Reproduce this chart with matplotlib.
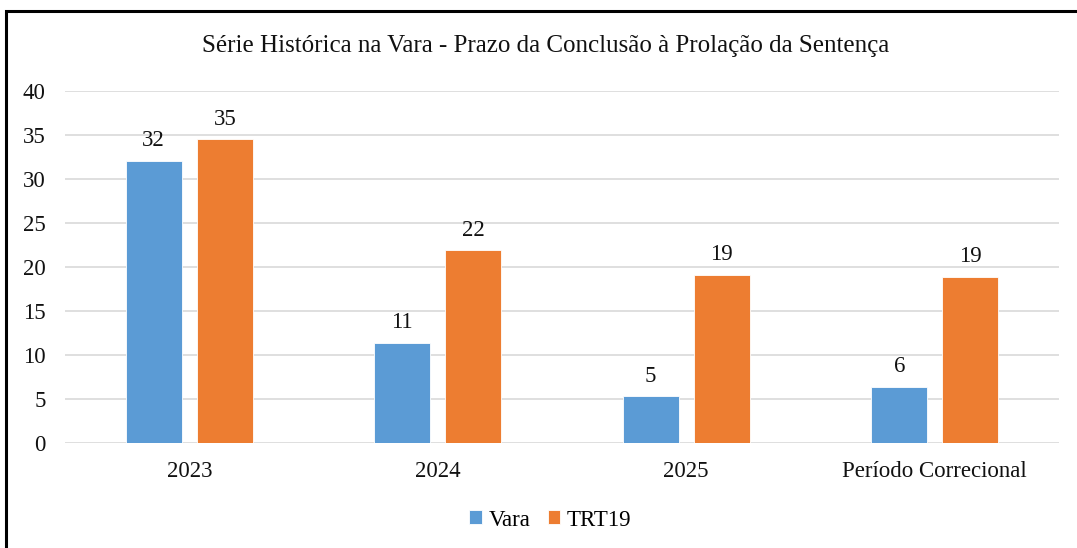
import matplotlib
matplotlib.use('Agg')
import matplotlib.pyplot as plt
import matplotlib.patches as mpatches
import numpy as np

categories = ['2023', '2024', '2025', 'Período Correcional']
vara = [32.1, 11.4, 5.3, 6.4]
trt19 = [34.5, 21.9, 19.1, 18.9]
vara_labels = ['32', '11', '5', '6']
trt19_labels = ['35', '22', '19', '19']

plt.rcParams['font.family'] = ['Liberation Serif', 'DejaVu Serif']

W, H = 1077, 548
fig = plt.figure(figsize=(W / 100, H / 100), dpi=100)
ax = fig.add_axes([65 / W, 1 - 443 / H, (1059 - 65) / W, (443 - 91) / H])

x = np.arange(len(categories))
bw = 0.225
off = 0.143
c_vara = '#5B9BD5'
c_trt = '#ED7D31'
b1 = ax.bar(x - off, vara, bw, color=c_vara, edgecolor='white', linewidth=0.6, label='Vara', zorder=3)
b2 = ax.bar(x + off, trt19, bw, color=c_trt, edgecolor='white', linewidth=0.6, label='TRT19', zorder=3)

for rects, labs in ((b1, vara_labels), (b2, trt19_labels)):
    for r, lab in zip(rects, labs):
        ax.annotate(lab, (r.get_x() + r.get_width() / 2, r.get_height()),
                    xytext=(0, 7), textcoords='offset points',
                    ha='center', va='bottom', fontsize=16.5, color='#111111')

ax.set_xlim(-0.5, len(categories) - 0.5)
ax.set_ylim(0, 40)
ax.set_yticks(range(0, 41, 5))
ax.set_xticks(x)
ax.set_xticklabels(categories)
ax.tick_params(axis='both', length=0, labelsize=16.5, colors='#111111')
ax.tick_params(axis='x', pad=13)
ax.tick_params(axis='y', pad=14)
ax.grid(axis='y', color='#D9D9D9', linewidth=1.2, zorder=0)
for s in ax.spines.values():
    s.set_visible(False)

fig.text(0.507, 1 - 46 / H, 'Série Histórica na Vara - Prazo da Conclusão à Prolação da Sentença',
         ha='center', va='center', fontsize=18, color='#111111')

leg = fig.legend(handles=[b1, b2], loc='center', bbox_to_anchor=(0.511, 1 - 520 / H),
                 ncol=2, frameon=False, fontsize=16.5, handlelength=0.55, handleheight=0.55,
                 handletextpad=0.3, columnspacing=0.75)

frame = mpatches.Rectangle((6 / W, -0.1), 1.2, 1 - 11 / H + 0.1, transform=fig.transFigure,
                           fill=False, edgecolor='black', linewidth=2.2)
fig.patches.append(frame)

fig.savefig('out.png', dpi=100)
